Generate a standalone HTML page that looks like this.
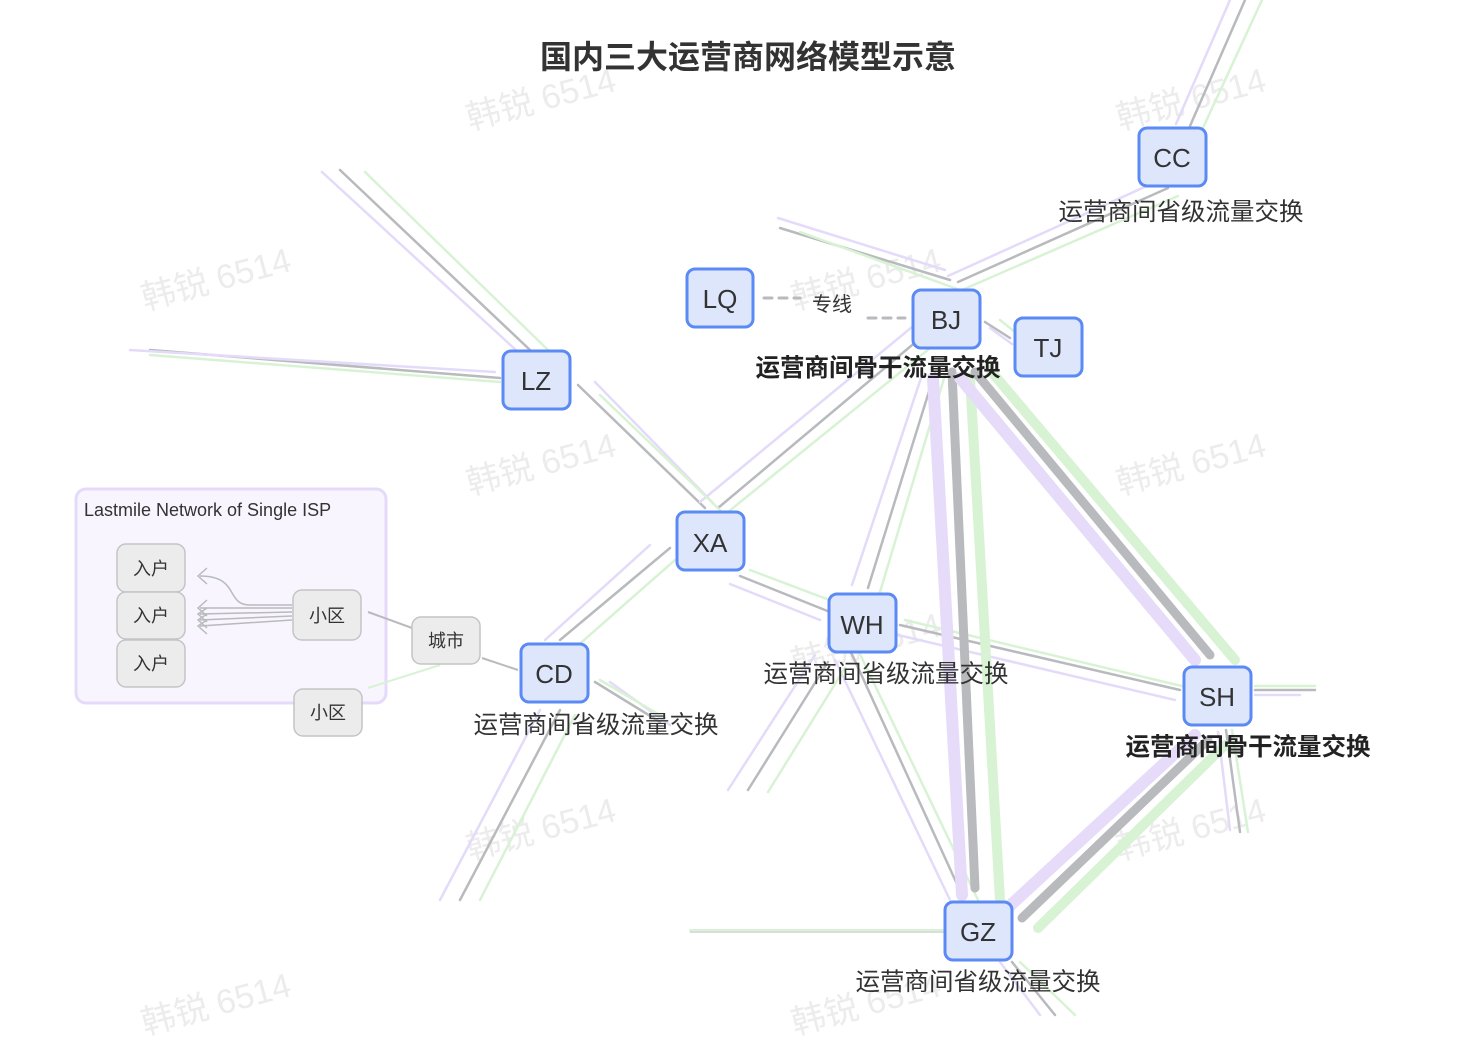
<!DOCTYPE html><html><head><meta charset="utf-8"><style>
body{margin:0;background:#fff;width:1470px;height:1038px;overflow:hidden}
svg text{font-family:"Liberation Sans","Noto Sans CJK SC",sans-serif}
</style></head><body>
<svg width="1470" height="1038" viewBox="0 0 1470 1038" xmlns="http://www.w3.org/2000/svg">
<rect width="1470" height="1038" fill="#fff"/>
<g font-size="34" fill="#ececec" font-family="Liberation Sans,Noto Sans CJK SC,sans-serif">
<text x="470" y="130" transform="rotate(-15 470 130)">韩锐 6514</text>
<text x="145" y="310" transform="rotate(-15 145 310)">韩锐 6514</text>
<text x="795" y="310" transform="rotate(-15 795 310)">韩锐 6514</text>
<text x="1120" y="130" transform="rotate(-15 1120 130)">韩锐 6514</text>
<text x="470" y="495" transform="rotate(-15 470 495)">韩锐 6514</text>
<text x="1120" y="495" transform="rotate(-15 1120 495)">韩锐 6514</text>
<text x="145" y="675" transform="rotate(-15 145 675)">韩锐 6514</text>
<text x="795" y="675" transform="rotate(-15 795 675)">韩锐 6514</text>
<text x="470" y="860" transform="rotate(-15 470 860)">韩锐 6514</text>
<text x="1120" y="860" transform="rotate(-15 1120 860)">韩锐 6514</text>
<text x="145" y="1035" transform="rotate(-15 145 1035)">韩锐 6514</text>
<text x="795" y="1035" transform="rotate(-15 795 1035)">韩锐 6514</text>
</g>
<text x="748" y="68" text-anchor="middle" font-size="32" font-weight="bold" fill="#333">国内三大运营商网络模型示意</text>
<g fill="none" stroke-linecap="round">
<g stroke-width="2.5">
<path d="M958 282L1168 188M1190 126L1245 0M780 228L950 280M340 170L530 350M150 350L500 378M578 385L705 508M718 508L930 330M670 548L560 640M740 576L830 612M868 588L935 372M900 625L1180 690M828 662L748 790M850 650L962 895M560 710L460 900M595 682L660 722M1012 962L1055 1015M1226 730L1240 832M1255 690L1315 690M985 322L1010 338" stroke="#b8babd"/>
<path d="M948 276L1160 180M1176 124L1230 0M778 218L945 270M322 172L518 352M130 350L495 372M595 382L712 502M700 502L918 322M650 545L545 640M730 584L820 620M852 585L922 375M898 635L1175 700M815 655L728 790M835 660L950 900M540 710L440 900M610 682L670 725M1000 962L1040 1015M1218 732L1230 830M1255 695L1300 695M990 328L1012 344" stroke="#e4dafa"/>
<path d="M962 290L1178 196M1202 130L1262 0M800 232L960 290M365 172L548 350M150 355L500 382M600 395L722 512M728 512L940 340M675 560L575 648M750 570L840 604M880 592L945 375M905 620L1190 688M845 668L768 792M858 650L978 900M575 715L480 900M600 680L665 718M1020 962L1075 1015M1232 730L1248 832M1255 686L1315 686M1000 320L1025 340" stroke="#d8f3d4"/>
</g>
<path d="M952 372L975 888" stroke="#b8babd" stroke-width="9"/>
<path d="M933 378L962 895" stroke="#e6dcfa" stroke-width="12"/>
<path d="M970 378L1000 900" stroke="#d8f3d4" stroke-width="10"/>
<path d="M975 372L1210 655" stroke="#b8babd" stroke-width="9"/>
<path d="M960 378L1195 660" stroke="#e6dcfa" stroke-width="12"/>
<path d="M990 370L1235 660" stroke="#d8f3d4" stroke-width="10"/>
<path d="M1208 740L1022 918" stroke="#b8babd" stroke-width="9"/>
<path d="M1195 735L1000 915" stroke="#e6dcfa" stroke-width="12"/>
<path d="M1225 745L1038 928" stroke="#d8f3d4" stroke-width="10"/>
<path d="M690 930L945 930" stroke="#d8f3d4" stroke-width="2"/>
<path d="M690 932L945 932" stroke="#b8babd" stroke-width="1"/>
<path d="M764 298L800 298M868 318L905 318" stroke="#b8babd" stroke-width="3" stroke-dasharray="8 7"/>
</g>
<text x="832" y="311" text-anchor="middle" font-size="20" fill="#333">专线</text>
<rect x="76" y="489" width="310" height="214" rx="10" fill="#f8f5fe" stroke="#e6dafa" stroke-width="3"/>
<text x="84" y="516" font-size="18" fill="#333">Lastmile Network of Single ISP</text>
<g fill="none" stroke="#b8babd" stroke-width="1.5">
<path d="M292 605L250 605C225 605 240 576 200 576M292 608L200 608M292 612L200 614M292 616L200 620M292 620L200 626M207 568L198 576L207 584M207 600L198 608L207 616M207 608L198 614L207 622M207 614L198 620L207 628M207 620L198 626L207 634"/>
<path d="M368 612L412 628M482 658L518 670" stroke-width="2"/>
<path d="M368 688L440 665" stroke="#d8f3d4" stroke-width="2"/>
</g>
<g fill="#ececec" stroke="#c4c4c4" stroke-width="1.5">
<rect x="117" y="544" width="68" height="48" rx="9"/>
<rect x="117" y="592" width="68" height="47" rx="9"/>
<rect x="117" y="640" width="68" height="47" rx="9"/>
<rect x="293" y="590" width="68" height="50" rx="9"/>
<rect x="412" y="617" width="68" height="47" rx="9"/>
<rect x="294" y="689" width="68" height="47" rx="9"/>
</g>
<g font-size="18" fill="#333" text-anchor="middle">
<text x="151" y="575">入户</text><text x="151" y="622">入户</text><text x="151" y="670">入户</text>
<text x="327" y="622">小区</text><text x="446" y="647">城市</text><text x="328" y="719">小区</text>
</g>
<g fill="#dde6fb" stroke="#5b8af5" stroke-width="3">
<rect x="1139" y="128" width="67" height="58" rx="8"/>
<rect x="687" y="269" width="66" height="58" rx="8"/>
<rect x="913" y="290" width="67" height="58" rx="8"/>
<rect x="1015" y="318" width="67" height="58" rx="8"/>
<rect x="503" y="351" width="67" height="58" rx="8"/>
<rect x="677" y="512" width="67" height="58" rx="8"/>
<rect x="829" y="594" width="67" height="58" rx="8"/>
<rect x="521" y="644" width="67" height="58" rx="8"/>
<rect x="1184" y="667" width="67" height="58" rx="8"/>
<rect x="945" y="902" width="67" height="58" rx="8"/>
</g>
<g font-size="26" fill="#333" text-anchor="middle">
<text x="1172" y="167">CC</text><text x="720" y="308">LQ</text><text x="946" y="329">BJ</text>
<text x="1048" y="357">TJ</text><text x="536" y="390">LZ</text><text x="710" y="552">XA</text>
<text x="862" y="634">WH</text><text x="554" y="683">CD</text><text x="1217" y="706">SH</text>
<text x="978" y="941">GZ</text>
</g>
<g font-size="24.5" fill="#333" text-anchor="middle">
<text x="1181" y="220">运营商间省级流量交换</text>
<text x="886" y="682">运营商间省级流量交换</text>
<text x="596" y="733">运营商间省级流量交换</text>
<text x="978" y="990">运营商间省级流量交换</text>
</g>
<g font-size="24.5" font-weight="bold" fill="#222" text-anchor="middle">
<text x="878" y="376">运营商间骨干流量交换</text>
<text x="1248" y="755">运营商间骨干流量交换</text>
</g>
</svg>
</body></html>
